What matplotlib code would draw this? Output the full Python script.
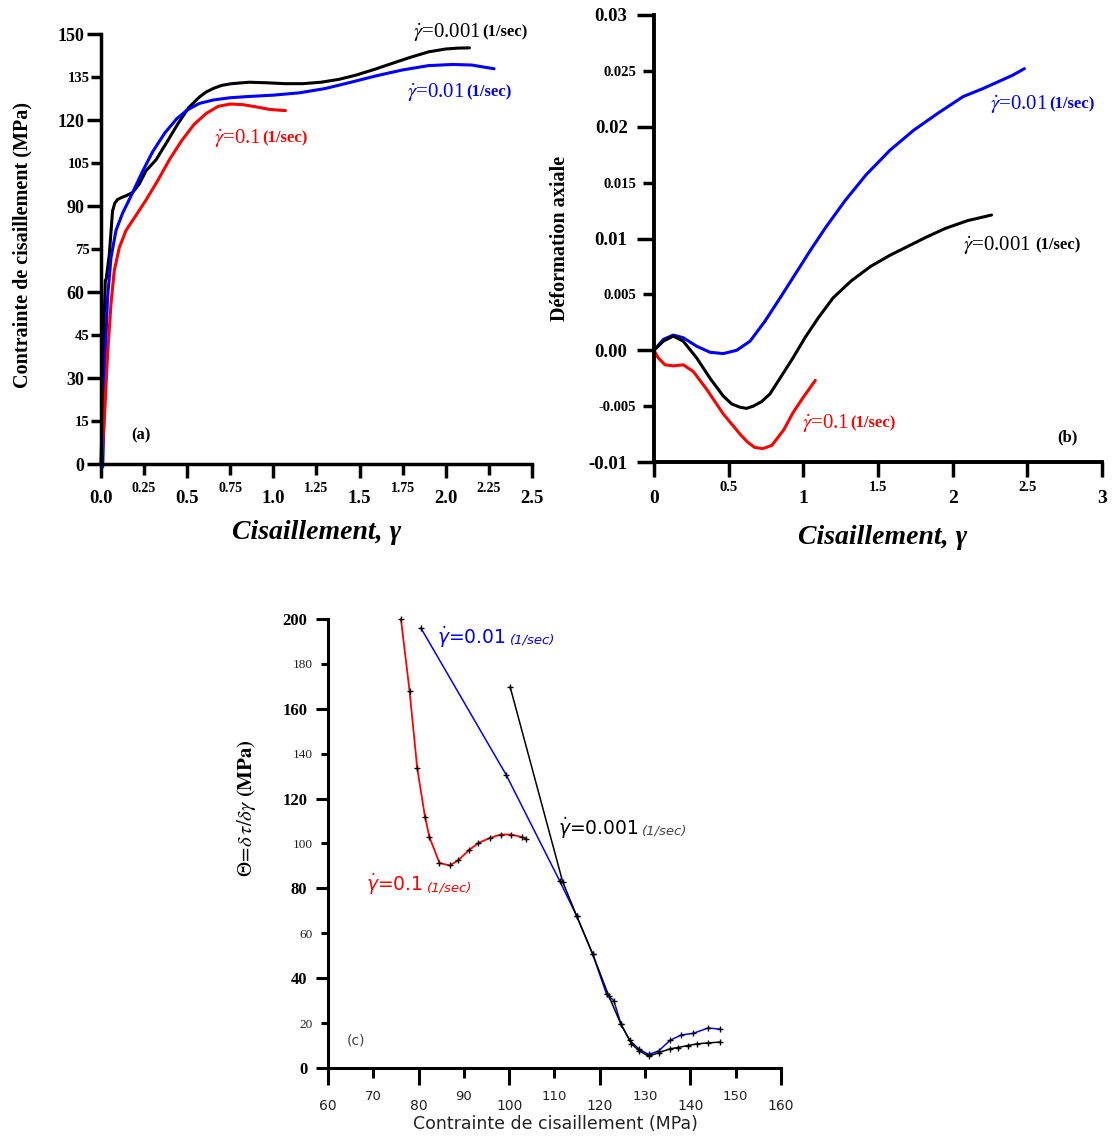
import matplotlib
matplotlib.use("Agg")
import matplotlib.pyplot as plt

plt.rcParams['mathtext.fontset'] = 'stix'
plt.rcParams['lines.solid_joinstyle'] = 'round'
plt.rcParams['lines.solid_capstyle'] = 'round'
SERIF = 'Liberation Serif'
SANS = 'DejaVu Sans'

# ---- panel (a): shear stress vs shear strain
a_x_0001 = [0.0, 0.01, 0.018, 0.025, 0.03, 0.048, 0.067, 0.08, 0.096, 0.12, 0.145, 0.183, 0.222, 0.261,
            0.32, 0.384, 0.446, 0.508, 0.57, 0.61, 0.654, 0.7, 0.757, 0.86, 0.965, 1.07, 1.17, 1.276, 1.38,
            1.48, 1.587, 1.69, 1.795, 1.9, 2.0, 2.07, 2.137]
a_y_0001 = [0, 25, 50, 64, 64.5, 73, 88.3, 91, 92.3, 93, 93.6, 94.7, 97.7, 102.3,
            106.2, 112.5, 118.7, 124.3, 128, 129.8, 131.1, 132.1, 132.7, 133.2, 133, 132.7, 132.7, 133.2,
            134.2, 135.7, 137.7, 139.8, 141.9, 143.8, 144.8, 145.1, 145.2]
a_x_001 = [0.01, 0.019, 0.029, 0.038, 0.058, 0.087, 0.125, 0.174, 0.24, 0.3, 0.37, 0.44, 0.5, 0.57,
           0.65, 0.75, 0.85, 1.0, 1.15, 1.3, 1.45, 1.6, 1.75, 1.9, 2.04, 2.15, 2.28]
a_y_001 = [-1, 21, 44, 58, 72, 81.5, 87.5, 93.5, 102, 109, 115.5, 120.5, 123.5, 125.8,
           127, 127.8, 128.2, 128.7, 129.5, 131, 133.2, 135.5, 137.5, 139, 139.4, 139.2, 137.9]
a_x_01 = [0.0, 0.019, 0.038, 0.058, 0.077, 0.106, 0.145, 0.2, 0.26, 0.33, 0.4, 0.47, 0.54, 0.61,
          0.68, 0.75, 0.82, 0.9, 0.98, 1.07]
a_y_01 = [0, 15, 38, 56, 67.5, 75.5, 81.5, 86.5, 92, 99, 106.5, 113, 118.5, 122.3,
          124.8, 125.6, 125.4, 124.6, 123.7, 123.3]

# ---- panel (b): axial strain vs shear strain
b_x_001 = [0, 0.0625, 0.129, 0.196, 0.286, 0.375, 0.464, 0.554, 0.643, 0.743, 0.85, 0.95, 1.05, 1.15,
           1.28, 1.42, 1.58, 1.74, 1.9, 2.07, 2.2, 2.3, 2.4, 2.48]
b_y_001 = [0, 0.00097, 0.00136, 0.00112, 0.00036, -0.00018, -0.0003, 0.0, 0.00081, 0.0026, 0.0048,
           0.0069, 0.0090, 0.0110, 0.0134, 0.0157, 0.0179, 0.0197, 0.0212, 0.0227, 0.0234, 0.0240,
           0.0246, 0.0252]
b_x_0001 = [0, 0.0625, 0.129, 0.196, 0.286, 0.375, 0.464, 0.52, 0.576, 0.62, 0.665, 0.72, 0.777, 0.844,
            0.93, 1.01, 1.1, 1.2, 1.32, 1.45, 1.58, 1.7, 1.82, 1.95, 2.1, 2.26]
b_y_0001 = [0, 0.00081, 0.00127, 0.00081, -0.00069, -0.0025, -0.0041, -0.0048, -0.0051, -0.0052,
            -0.0050, -0.0046, -0.0039, -0.0025, -0.0007, 0.0011, 0.0029, 0.0047, 0.0062, 0.0075, 0.0085,
            0.0093, 0.0101, 0.0109, 0.0116, 0.0121]
b_x_01 = [0, 0.029, 0.0737, 0.129, 0.196, 0.263, 0.353, 0.464, 0.576, 0.625, 0.675, 0.73, 0.79, 0.87,
          0.93, 1.0, 1.08]
b_y_01 = [0, -0.00069, -0.0013, -0.0014, -0.0013, -0.0019, -0.0035, -0.0057, -0.0075, -0.0082,
          -0.0087, -0.0088, -0.0085, -0.0071, -0.0056, -0.0042, -0.0027]

# ---- panel (c): hardening rate vs shear stress
c_x_01 = [76.1, 78.0, 79.7, 81.4, 82.4, 84.6, 86.9, 88.8, 91.1, 93.2, 95.8, 98.1, 100.4, 102.9, 103.8]
c_y_01 = [200, 168, 133.5, 112, 102.8, 91.3, 90.2, 92.6, 97, 100.2, 102.5, 104, 104, 102.8, 102]
c_x_001 = [80.5, 99.3, 111.2, 114.9, 118.4, 121.5, 123.1, 124.7, 126.6, 128.7, 130.8, 133.0, 135.5,
           138.0, 140.6, 143.9, 146.5]
c_y_001 = [196, 130.7, 83.1, 67.7, 50.9, 32.8, 30, 19.4, 12.3, 8.3, 6, 7.6, 12.3, 14.7, 15.4, 17.8, 17.3]
c_x_0001 = [100.2, 111.8, 114.9, 118.4, 122.0, 124.7, 127.0, 128.7, 130.8, 133.0, 135.5, 137.2, 139.5,
            141.4, 144.0, 146.5]
c_y_0001 = [169.8, 83, 67.7, 50.9, 32, 19.4, 10.8, 7.6, 5.2, 6.8, 8.5, 9.1, 10, 10.7, 11.2, 11.5]

# ticks (major labels big, minor labels small)
a_xmaj = [0, 0.5, 1.0, 1.5, 2.0, 2.5]
a_xmaj_lab = ["0.0", "0.5", "1.0", "1.5", "2.0", "2.5"]
a_xmin = [0.25, 0.75, 1.25, 1.75, 2.25]
a_xmin_lab = ["0.25", "0.75", "1.25", "1.75", "2.25"]
a_ymaj = [0, 30, 60, 90, 120, 150]
a_ymin = [15, 45, 75, 105, 135]

b_xmaj = [0, 1, 2, 3]
b_xmin = [0.5, 1.5, 2.5]
b_ymaj = [-0.01, 0.0, 0.01, 0.02, 0.03]
b_ymaj_lab = ["-0.01", "0.00", "0.01", "0.02", "0.03"]
b_ymin = [-0.005, 0.005, 0.015, 0.025]
b_ymin_lab = ["-0.005", "0.005", "0.015", "0.025"]

c_xmaj = [60, 80, 100, 120, 140, 160]
c_xmin = [70, 90, 110, 130, 150]
c_ymaj = [0, 40, 80, 120, 160, 200]
c_ymin = [20, 60, 100, 140, 180]


def rate_label(ax, x, y, rate, color, size, usize, family, uweight='bold', ustyle='normal',
               ucolor=None, gap=1.0, mathfam='stix'):
    t = ax.text(x, y, r"$\dot{\gamma}$=" + rate, color=color, fontsize=size, family=family,
                va='baseline', math_fontfamily=mathfam)
    ax.annotate("(1/sec)", xy=(1, 0.12), xycoords=t, xytext=(gap, 0), textcoords='offset points',
                color=ucolor or color, fontsize=usize, family=family, fontweight=uweight,
                fontstyle=ustyle, va='bottom', ha='left')


def setup_axes(ax, lw):
    for s in ['top', 'right']:
        ax.spines[s].set_visible(False)
    for s in ['left', 'bottom']:
        ax.spines[s].set_linewidth(lw)


fig = plt.figure(figsize=(11.16, 11.36), dpi=100)

# ================= (a)
ax = fig.add_axes([0.0905, 0.5915, 0.3862, 0.3785])
setup_axes(ax, 2.5)
ax.plot(a_x_0001, a_y_0001, color='black', lw=2.2, clip_on=False)
ax.plot(a_x_001, a_y_001, color='#0000ff', lw=2.2, clip_on=False)
ax.plot(a_x_01, a_y_01, color='#ff0000', lw=2.2, clip_on=False)
ax.set_xlim(0, 2.5)
ax.set_ylim(0, 150)
ax.set_xticks(a_xmaj, a_xmaj_lab)
ax.set_xticks(a_xmin, a_xmin_lab, minor=True)
ax.set_yticks(a_ymaj, [str(v) for v in a_ymaj])
ax.set_yticks(a_ymin, [str(v) for v in a_ymin], minor=True)
ax.tick_params(axis='x', which='major', length=10, width=2.5, pad=9, labelsize=13.5)
ax.tick_params(axis='x', which='minor', length=8, width=2.5, pad=5, labelsize=10)
ax.tick_params(axis='y', which='major', length=10, width=2.5, pad=2, labelsize=13)
ax.tick_params(axis='y', which='minor', length=7, width=2.5, pad=1, labelsize=10.5)
for lab in ax.get_xticklabels(which='both') + ax.get_yticklabels(which='both'):
    lab.set_family(SERIF)
    lab.set_fontweight('bold')
ax.text(-0.183, 0.51, "Contrainte de cisaillement (MPa)", transform=ax.transAxes, rotation=90,
        ha='center', va='center', family=SERIF, fontweight='bold', fontsize=14.5)
ax.text(0.5, -0.16, "Cisaillement, γ", transform=ax.transAxes, ha='center', va='center',
        family=SERIF, fontweight='bold', fontstyle='italic', fontsize=20)
ax.text(0.232, 9.9, "(a)", ha='center', va='center', family=SERIF, fontweight='bold', fontsize=12)
rate_label(ax, 1.81, 149, "0.001", 'black', 15, 12, SERIF)
rate_label(ax, 1.775, 128, "0.01", '#0000ff', 15, 12, SERIF)
rate_label(ax, 0.656, 112, "0.1", '#ff0000', 15, 12, SERIF)

# ================= (b)
ax = fig.add_axes([0.586, 0.5933, 0.4015, 0.3935])
setup_axes(ax, 2.8)
ax.plot(b_x_001, b_y_001, color='#0000ff', lw=2.2, clip_on=False)
ax.plot(b_x_0001, b_y_0001, color='black', lw=2.2, clip_on=False)
ax.plot(b_x_01, b_y_01, color='#ff0000', lw=2.2, clip_on=False)
ax.set_xlim(0, 3)
ax.set_ylim(-0.01, 0.03)
ax.set_xticks(b_xmaj, [str(v) for v in b_xmaj])
ax.set_xticks(b_xmin, [str(v) for v in b_xmin], minor=True)
ax.set_yticks(b_ymaj, b_ymaj_lab)
ax.set_yticks(b_ymin, b_ymin_lab, minor=True)
ax.tick_params(axis='x', which='major', length=11, width=2.5, pad=9, labelsize=14)
ax.tick_params(axis='x', which='minor', length=11, width=2.5, pad=3, labelsize=10.5)
ax.tick_params(axis='y', which='major', length=12, width=2.5, pad=7, labelsize=13.5)
ax.tick_params(axis='y', which='minor', length=8, width=2.5, pad=5, labelsize=10.5)
for lab in ax.get_xticklabels(which='both') + ax.get_yticklabels(which='both'):
    lab.set_family(SERIF)
    lab.set_fontweight('bold')
ax.text(-0.21, 0.5, "Déformation axiale", transform=ax.transAxes, rotation=90,
        ha='center', va='center', family=SERIF, fontweight='bold', fontsize=14.5)
ax.text(0.511, -0.168, "Cisaillement, γ", transform=ax.transAxes, ha='center', va='center',
        family=SERIF, fontweight='bold', fontstyle='italic', fontsize=20)
ax.text(2.77, -0.0078, "(b)", ha='center', va='center', family=SERIF, fontweight='bold', fontsize=12)
rate_label(ax, 2.25, 0.0216, "0.01", '#0000ff', 15, 12, SERIF)
rate_label(ax, 2.07, 0.00895, "0.001", 'black', 15, 12, SERIF, gap=3)
rate_label(ax, 0.988, -0.00697, "0.1", '#ff0000', 15, 12, SERIF)

# ================= (c)
ax = fig.add_axes([0.2939, 0.0599, 0.4059, 0.3952])
setup_axes(ax, 2.2)
mk = dict(marker='+', markersize=5, markeredgecolor='black', markeredgewidth=1)
ax.plot(c_x_01, c_y_01, color='#ff0000', lw=1.3, clip_on=False, **mk)
ax.plot(c_x_001, c_y_001, color='#0000ff', lw=1.1, clip_on=False, **mk)
ax.plot(c_x_0001, c_y_0001, color='black', lw=1.1, clip_on=False, **mk)
ax.set_xlim(60, 160)
ax.set_ylim(0, 200)
ax.set_xticks(c_xmaj, [str(v) for v in c_xmaj])
ax.set_xticks(c_xmin, [str(v) for v in c_xmin], minor=True)
ax.set_yticks(c_ymaj, [str(v) for v in c_ymaj])
ax.set_yticks(c_ymin, [str(v) for v in c_ymin], minor=True)
ax.tick_params(axis='x', which='major', length=12, width=2.2, pad=10, labelsize=10)
ax.tick_params(axis='x', which='minor', length=7, width=2.2, pad=9, labelsize=9.5)
ax.tick_params(axis='y', which='major', length=9, width=2.2, pad=6, labelsize=12)
ax.tick_params(axis='y', which='minor', length=5, width=2.2, pad=6, labelsize=9.5)
for lab in ax.get_xticklabels(which='both'):
    lab.set_family(SANS)
    lab.set_color('#222222')
for lab in ax.get_yticklabels():
    lab.set_family(SERIF)
    lab.set_fontweight('bold')
for lab in ax.get_yticklabels(minor=True):
    lab.set_family(SERIF)
    lab.set_color('#222222')
ax.text(0.503, -0.125, "Contrainte de cisaillement (MPa)", transform=ax.transAxes, ha='center',
        va='center', family=SANS, fontsize=12.5, color='#222222')
ax.text(-0.179, 0.58, r"$\Theta\!=\!\delta\,\tau/\delta\gamma\ \mathbf{(MPa)}$", transform=ax.transAxes,
        rotation=90, ha='center', va='center', fontsize=15)
ax.text(66.2, 12.3, "(c)", ha='center', va='center', family=SANS, fontsize=10, color='#444444')
rate_label(ax, 84.1, 189, "0.01", '#0000ff', 13.5, 9.5, SANS, uweight='normal', ustyle='italic',
           gap=3, mathfam='dejavusans')
rate_label(ax, 110.8, 104, "0.001", 'black', 13.5, 9.5, SANS, uweight='normal', ustyle='italic',
           ucolor='#444444', gap=2, mathfam='dejavusans')
rate_label(ax, 68.5, 78.7, "0.1", '#ff0000', 13.5, 9.5, SANS, uweight='normal', ustyle='italic',
           gap=3, mathfam='dejavusans')

fig.savefig("out.png", dpi=100)
